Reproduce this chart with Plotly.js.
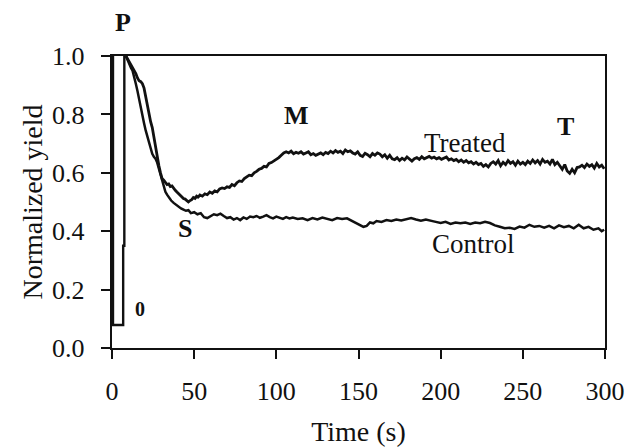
<!DOCTYPE html>
<html>
<head>
<meta charset="utf-8">
<script src="https://cdn.plot.ly/plotly-3.0.1.min.js"></script>
<style>html,body{margin:0;padding:0;background:#fff;}#chart{width:629px;height:447px;}</style>
</head>
<body>
<div id="chart"></div>
<script>
// Shared initial pulse segment (Fo and saturating-pulse step)
var pulseTime  = [0.6, 0.6, 6.8, 6.8, 7.5, 7.5];
var pulseYield = [1.0, 0.079, 0.079, 0.35, 0.35, 1.0];

var controlTime = [8.5,9.5,10.5,11.5,12.5,13.5,14.5,15.5,16.5,17.5,18.5,19.5,20.5,21.5,22.5,23.5,24.5,25.5,26.5,27.5,28.5,29.5,30.5,31.5,32.5,33.5,34.5,36,37.5,39,40.5,42,43.5,45,46.5,48,50,52,54,56,58,60,62,64,66,68,70,72,74,76,78,80,82,84,86,88,90,92,94,96,98,100,102,104,106,108,110,113,116,119,122,125,128,131,134,137,140,143,146,149,151,153,155,157,159,161,164,167,170,173,176,179,182,185,188,191,194,197,200,203,206,209,212,215,218,221,224,227,230,233,236,239,242,245,248,251,254,257,260,263,266,269,272,275,278,281,284,287,290,293,296,298,299.5];
var controlYield = [1.0,0.985,0.975,0.96,0.95,0.93,0.905,0.88,0.85,0.82,0.795,0.77,0.745,0.72,0.705,0.685,0.665,0.655,0.648,0.635,0.615,0.59,0.57,0.555,0.535,0.525,0.515,0.505,0.497,0.49,0.482,0.478,0.474,0.47,0.472,0.462,0.465,0.458,0.462,0.448,0.445,0.452,0.458,0.455,0.46,0.452,0.445,0.448,0.44,0.445,0.438,0.447,0.442,0.45,0.448,0.452,0.446,0.45,0.455,0.448,0.444,0.45,0.447,0.442,0.448,0.444,0.447,0.442,0.444,0.438,0.445,0.44,0.447,0.443,0.438,0.445,0.442,0.444,0.435,0.428,0.42,0.415,0.418,0.43,0.427,0.435,0.432,0.438,0.435,0.44,0.437,0.442,0.445,0.44,0.436,0.44,0.437,0.432,0.428,0.432,0.425,0.43,0.427,0.43,0.425,0.43,0.427,0.432,0.428,0.42,0.415,0.41,0.412,0.408,0.416,0.412,0.422,0.415,0.418,0.412,0.418,0.41,0.42,0.414,0.418,0.41,0.422,0.41,0.415,0.405,0.41,0.4,0.405];

var treatedTime = [8.5,9.5,10.5,11.5,12.5,13.5,14.5,15.5,16.5,17.5,18.5,19.5,20.5,21.5,22.5,23.5,24.5,25.5,26.5,27.5,28.5,29.5,30.5,31.5,32.5,33.5,34.5,35.5,36.5,37.5,38.5,39.5,40.5,41.5,42.5,43.5,44.5,45.5,46.5,47.5,48.5,49.5,50.5,51.5,52.5,53.5,55,56.5,58,59.5,61,62.5,64,65.5,67,68.5,70,71.5,73,74.5,76,77.5,79,80.5,82,83.5,85,86.5,88,89.5,91,92.5,94,95.5,97,98.5,100,101.5,103,104.5,106,107.5,109,110.5,112,113.5,115,116.5,118,119.5,121,122.5,124,125.5,127,128.5,130,131.5,133,134.5,136,137.5,139,140.5,142,143.5,145,146.5,148,149.5,151,152.5,154,155.5,157,158.5,160,161.5,163,164.5,166,167.5,169,170.5,172,173.5,175,176.5,178,179.5,181,182.5,184,185.5,187,188.5,190,191.5,193,194.5,196,197.5,199,200.5,202,203.5,205,206.5,208,209.5,211,212.5,214,215.5,217,218.5,220,221.5,223,224.5,226,227.5,229,230.5,232,233.5,235,236.5,238,239.5,241,242.5,244,245.5,247,248.5,250,251.5,253,254.5,256,257.5,259,260.5,262,263.5,265,266.5,268,269.5,271,272.5,274,275.5,277,278.5,280,281.5,283,284.5,286,287.5,289,290.5,292,293.5,295,296.5,298,299.5];
var treatedYield = [1.0,0.99,0.985,0.975,0.965,0.955,0.94,0.925,0.915,0.912,0.905,0.89,0.86,0.83,0.8,0.775,0.755,0.72,0.685,0.655,0.625,0.6,0.58,0.575,0.568,0.56,0.562,0.553,0.555,0.545,0.54,0.534,0.528,0.522,0.518,0.512,0.51,0.503,0.5,0.505,0.508,0.515,0.512,0.52,0.517,0.524,0.52,0.528,0.525,0.534,0.53,0.538,0.535,0.545,0.548,0.546,0.552,0.55,0.56,0.556,0.566,0.572,0.57,0.58,0.585,0.592,0.59,0.6,0.605,0.612,0.615,0.622,0.62,0.632,0.635,0.64,0.645,0.652,0.66,0.668,0.672,0.668,0.674,0.665,0.67,0.667,0.672,0.664,0.668,0.672,0.662,0.666,0.66,0.665,0.668,0.662,0.67,0.666,0.674,0.668,0.676,0.67,0.674,0.666,0.678,0.672,0.675,0.668,0.664,0.672,0.66,0.656,0.667,0.662,0.655,0.666,0.66,0.668,0.664,0.655,0.662,0.65,0.66,0.648,0.645,0.652,0.642,0.65,0.644,0.654,0.646,0.64,0.648,0.652,0.646,0.655,0.648,0.652,0.656,0.65,0.654,0.648,0.652,0.646,0.65,0.654,0.644,0.648,0.642,0.646,0.638,0.644,0.636,0.642,0.634,0.638,0.63,0.636,0.628,0.632,0.622,0.628,0.62,0.632,0.638,0.63,0.642,0.624,0.636,0.628,0.642,0.632,0.638,0.626,0.64,0.63,0.636,0.628,0.64,0.632,0.644,0.634,0.642,0.63,0.646,0.636,0.64,0.63,0.646,0.628,0.636,0.622,0.612,0.628,0.606,0.598,0.612,0.6,0.618,0.62,0.626,0.618,0.63,0.622,0.628,0.616,0.632,0.62,0.626,0.614];

var xTicks = [0, 50, 100, 150, 200, 250, 300];
var yTicks = [0.0, 0.2, 0.4, 0.6, 0.8, 1.0];

var labelText = ['P', 'M', 'S', 'T', '0'];
var labelX    = [6.4, 112, 44.7, 276, 17.3];
var labelY    = [1.116, 0.795, 0.408, 0.757, 0.134];
var seriesText = ['Treated', 'Control'];
var seriesX    = [215, 220];
var seriesY    = [0.702, 0.356];

var black = '#111111';
var serif = 'Liberation Serif, Times New Roman, serif';

var traces = [
  {x: pulseTime, y: pulseYield, mode: 'lines', line: {color: black, width: 2.4}, hoverinfo: 'skip'},
  {x: controlTime, y: controlYield, mode: 'lines', name: 'Control', line: {color: black, width: 2.5}},
  {x: treatedTime, y: treatedYield, mode: 'lines', name: 'Treated', line: {color: black, width: 2.8}}
];

var annotations = [];
for (var i = 0; i < labelText.length; i++) {
  annotations.push({x: labelX[i], y: labelY[i], xref: 'x', yref: 'paper', xanchor: 'center', yanchor: 'middle',
    text: '<b>' + labelText[i] + '</b>',
    showarrow: false, font: {family: serif, size: labelText[i] === '0' ? 20 : 26, color: black}});
}
for (var j = 0; j < seriesText.length; j++) {
  annotations.push({x: seriesX[j], y: seriesY[j], xref: 'x', yref: 'y', xanchor: 'center', yanchor: 'middle',
    text: seriesText[j],
    showarrow: false, font: {family: serif, size: 27, color: black}});
}

var layout = {
  width: 629, height: 447,
  margin: {l: 112, r: 24, t: 56, b: 99, pad: 0},
  paper_bgcolor: '#fff', plot_bgcolor: '#fff',
  showlegend: false,
  font: {family: serif, color: black},
  xaxis: {
    range: [0, 300], tickvals: xTicks, ticktext: xTicks.map(String),
    showline: true, linecolor: black, linewidth: 2.2, mirror: true,
    ticks: 'outside', ticklen: 9, tickwidth: 2, tickcolor: black,
    showgrid: false, zeroline: false,
    tickfont: {family: serif, size: 26, color: black},
    ticklabelstandoff: 10,
    title: {text: 'Time (s)', font: {family: serif, size: 28, color: black}, standoff: 18}
  },
  yaxis: {
    range: [0, 1.0], tickvals: yTicks, ticktext: yTicks.map(function(v){return v.toFixed(1);}),
    showline: true, linecolor: black, linewidth: 2.2, mirror: true,
    ticks: 'outside', ticklen: 9, tickwidth: 2, tickcolor: black,
    showgrid: false, zeroline: false,
    tickfont: {family: serif, size: 26, color: black},
    ticklabelstandoff: 11,
    title: {text: 'Normalized yield', font: {family: serif, size: 28, color: black}, standoff: 1}
  },
  annotations: annotations
};

Plotly.newPlot('chart', traces, layout, {staticPlot: true, displayModeBar: false});
</script>
</body>
</html>
